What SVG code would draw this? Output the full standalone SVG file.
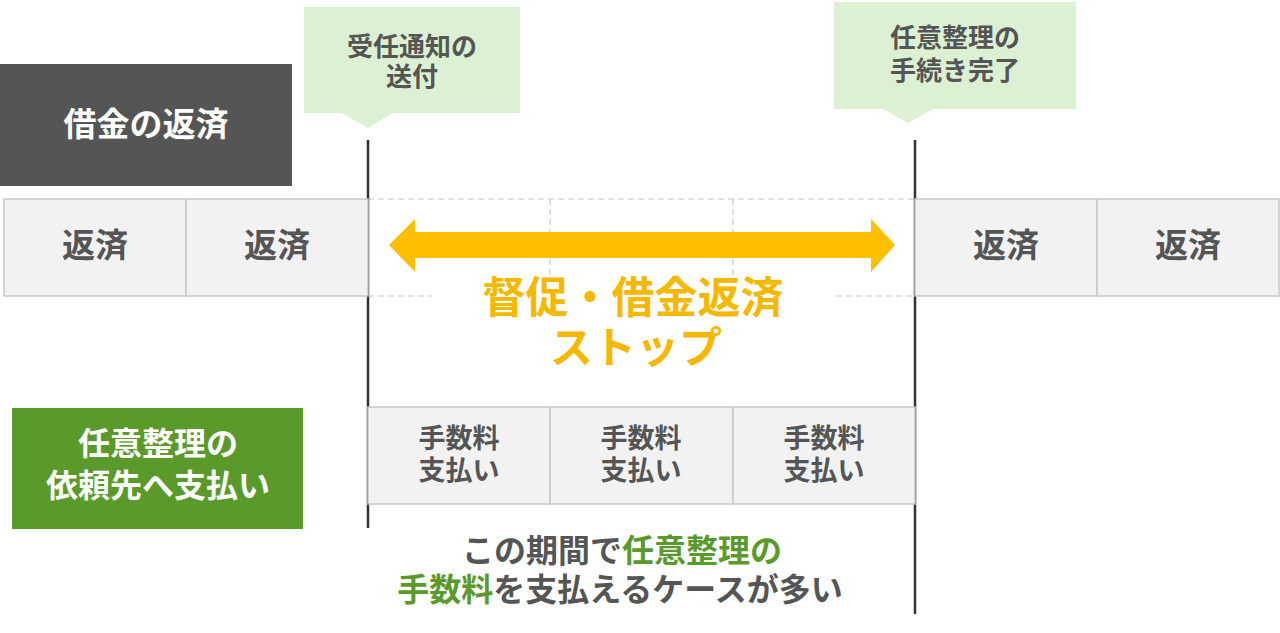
<svg xmlns="http://www.w3.org/2000/svg" width="1280" height="633" viewBox="0 0 1280 633">
<style>
text{font-family:"Noto Sans CJK JP","Noto Sans",sans-serif;font-weight:700;text-anchor:middle}
.cell{fill:#f2f2f2;stroke:#c8c8c8;stroke-width:1.5}
.dash{stroke:#c8c8c8;stroke-width:1.2;stroke-dasharray:6 4;fill:none}
.vline{stroke:#333;stroke-width:2.5}
.call{fill:#dcf1d3}
.t26{font-size:26px;fill:#555}
.t27{font-size:27px;fill:#555}
.t33{font-size:33px;fill:#555}
.b32{font-size:32px;fill:#555}
.w33{font-size:33px;fill:#fff}
.w32{font-size:32px;fill:#fff}
.y43{font-size:43px;fill:#f5b800}
.g{fill:#5a9a2b}
</style>
<rect width="1280" height="633" fill="#fff"/>
<g id="connectors">
<line class="dash" x1="368" y1="199" x2="915" y2="199"/>
<line class="dash" x1="368" y1="296" x2="432" y2="296"/>
<line class="dash" x1="836" y1="296" x2="915" y2="296"/>
<line class="dash" x1="550" y1="199" x2="550" y2="278"/>
<line class="dash" x1="733" y1="199" x2="733" y2="278"/>
<line class="vline" x1="368" y1="140" x2="368" y2="528"/>
<line class="vline" x1="915" y1="140" x2="915" y2="614"/>
<polygon fill="#fbbf00" points="389,245 415,219 415,232 871,232 871,219 895,245 871,272 871,258 415,258 415,272"/>
</g>
<g id="label-debt">
<rect x="0" y="64" width="292" height="122" fill="#555"/>
<text class="w33" x="146" y="136">借金の返済</text>
</g>
<g id="repay-1"><rect class="cell" x="4" y="199" width="182" height="97"/><text class="t33" x="95" y="257">返済</text></g>
<g id="repay-2"><rect class="cell" x="186" y="199" width="182" height="97"/><text class="t33" x="277" y="257">返済</text></g>
<g id="repay-3"><rect class="cell" x="915" y="199" width="182" height="97"/><text class="t33" x="1006" y="257">返済</text></g>
<g id="repay-4"><rect class="cell" x="1097" y="199" width="182" height="97"/><text class="t33" x="1188" y="257">返済</text></g>
<g id="callout-notice">
<rect class="call" x="304" y="7" width="216" height="106"/>
<polygon class="call" points="340,112 394,112 368,128"/>
<text class="t26" x="412" y="56">受任通知の</text>
<text class="t26" x="412" y="86">送付</text>
</g>
<g id="callout-complete">
<rect class="call" x="834" y="2" width="242" height="107"/>
<polygon class="call" points="881,108 935,108 908,123"/>
<text class="t26" x="955" y="47">任意整理の</text>
<text class="t26" x="955" y="80">手続き完了</text>
</g>
<g id="stop-label">
<text class="y43" x="633" y="313">督促・借金返済</text>
<text class="y43" x="636" y="363">ストップ</text>
</g>
<g id="fee-1"><rect class="cell" x="368" y="407" width="182" height="97"/><text class="t27" x="459" y="448">手数料</text><text class="t27" x="459" y="480">支払い</text></g>
<g id="fee-2"><rect class="cell" x="550" y="407" width="183" height="97"/><text class="t27" x="641" y="448">手数料</text><text class="t27" x="641" y="480">支払い</text></g>
<g id="fee-3"><rect class="cell" x="733" y="407" width="182" height="97"/><text class="t27" x="824" y="448">手数料</text><text class="t27" x="824" y="480">支払い</text></g>
<g id="label-pay">
<rect x="12" y="408" width="291" height="121" fill="#5a9a2b"/>
<text class="w32" x="158" y="455">任意整理の</text>
<text class="w32" x="158" y="497">依頼先へ支払い</text>
</g>
<g id="note">
<text class="b32" x="622" y="562">この期間で<tspan class="g">任意整理の</tspan></text>
<text class="b32" x="620" y="601"><tspan class="g">手数料</tspan>を支払えるケースが多い</text>
</g>
</svg>
